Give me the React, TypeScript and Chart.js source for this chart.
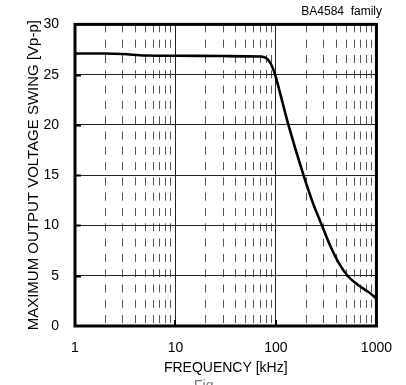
import React, { useEffect, useRef } from "react";
import { Chart, registerables } from "chart.js";

Chart.register(...registerables);

// Data
const freqKHz = [1, 2, 3, 5, 10, 30, 70, 80, 87, 93, 98, 133, 188, 232, 287, 353, 420, 516, 674, 814, 1000];
const swingVpp = [27.1, 27.1, 27.05, 26.9, 26.88, 26.85, 26.8, 26.65, 26.25, 25.65, 25.0, 20, 15, 12.3, 10, 7.8, 6.3, 5.0, 4.0, 3.45, 2.75];

const decades = [1, 10, 100, 1000];
const multipliers = [1, 2, 3, 4, 5, 6, 7, 8, 9];
const xTickLabels = ["1", "10", "100", "1000"];
const yTicks = [0, 5, 10, 15, 20, 25, 30];

const xTitle = "FREQUENCY [kHz]";
const yTitle = "MAXIMUM OUTPUT VOLTAGE SWING [Vp-p]";
const noteText = "BA4584  family";
const captionText = "Fig.";

const FONT = "'Liberation Sans', Arial, Helvetica, sans-serif";

const isDecade = (v: number) => decades.some((d) => Math.abs(d - v) < 1e-9);

const framePlugin = {
  id: "frame",
  afterDatasetsDraw(chart: any) {
    const { ctx, chartArea, scales } = chart;
    const { left, top, right, bottom } = chartArea;
    ctx.save();
    // inner tick marks
    ctx.strokeStyle = "#000";
    ctx.lineWidth = 2;
    ctx.beginPath();
    yTicks.forEach((v) => {
      if (v <= 0 || v >= 30) return;
      const y = Math.round(scales.y.getPixelForValue(v)) + 0.5;
      ctx.moveTo(left, y);
      ctx.lineTo(left + 6, y);
    });
    decades.forEach((d) => {
      if (d <= 1 || d >= 1000) return;
      const x = Math.round(scales.x.getPixelForValue(d));
      ctx.moveTo(x, bottom);
      ctx.lineTo(x, bottom - 6);
    });
    ctx.stroke();
    // thick frame
    ctx.lineWidth = 3;
    ctx.strokeRect(left, top, right - left, bottom - top);
    // note text
    ctx.fillStyle = "#000";
    ctx.font = `12px ${FONT}`;
    ctx.textAlign = "right";
    ctx.textBaseline = "alphabetic";
    ctx.fillText(noteText, 382, 15);
    // cut-off caption at the bottom
    ctx.fillStyle = "#777";
    ctx.font = `14px ${FONT}`;
    ctx.textAlign = "left";
    ctx.textBaseline = "top";
    ctx.fillText(captionText, 194, 379);
    ctx.restore();
  },
};

export default function App() {
  const ref = useRef<HTMLCanvasElement | null>(null);

  useEffect(() => {
    if (!ref.current) return;
    const gridValues: number[] = [];
    decades.forEach((d) => {
      if (d === 1000) {
        gridValues.push(1000);
        return;
      }
      multipliers.forEach((m) => gridValues.push(d * m));
    });

    const chart = new Chart(ref.current, {
      type: "line",
      data: {
        datasets: [
          {
            data: freqKHz.map((f, i) => ({ x: f, y: swingVpp[i] })),
            borderColor: "#000",
            borderWidth: 2.6,
            pointRadius: 0,
            cubicInterpolationMode: "monotone",
            fill: false,
          },
        ],
      },
      options: {
        animation: false,
        responsive: false,
        maintainAspectRatio: false,
        devicePixelRatio: 1,
        layout: { padding: { left: 0, top: 22, right: 27, bottom: 0 } },
        plugins: { legend: { display: false }, tooltip: { enabled: false } },
        scales: {
          x: {
            type: "logarithmic",
            min: 1,
            max: 1000,
            afterBuildTicks: (scale: any) => {
              scale.ticks = gridValues.map((v) => ({ value: v, major: isDecade(v) }));
            },
            afterFit: (scale: any) => {
              scale.height = 59;
            },
            ticks: {
              autoSkip: false,
              maxRotation: 0,
              padding: 14,
              color: "#000",
              font: { family: FONT, size: 14 },
              callback: (value: any) => {
                const i = decades.findIndex((d) => Math.abs(d - Number(value)) < 1e-9);
                return i >= 0 ? xTickLabels[i] : "";
              },
            },
            grid: {
              drawTicks: false,
              lineWidth: 1,
              color: (ctx: any) => (ctx.tick && isDecade(ctx.tick.value) ? "#222" : "#555"),
            },
            border: {
              display: false,
              dash: (ctx: any) => (ctx.tick && !isDecade(ctx.tick.value) ? [8, 7.3] : []),
            },
            title: {
              display: true,
              text: xTitle,
              color: "#000",
              font: { family: FONT, size: 14 },
              padding: { top: 0, bottom: 8 },
            },
          },
          y: {
            min: 0,
            max: 30,
            afterBuildTicks: (scale: any) => {
              scale.ticks = yTicks.map((v) => ({ value: v }));
            },
            afterFit: (scale: any) => {
              scale.width = 75;
            },
            ticks: {
              padding: 16,
              color: "#000",
              font: { family: FONT, size: 14 },
            },
            grid: { drawTicks: false, lineWidth: 1, color: "#222" },
            border: { display: false },
            title: {
              display: true,
              text: yTitle,
              color: "#000",
              font: { family: FONT, size: 15 },
              padding: { top: 25, bottom: 0 },
            },
          },
        },
      },
      plugins: [framePlugin],
    } as any);
    return () => chart.destroy();
  }, []);

  return (
    <div style={{ position: "fixed", left: 0, top: 0, width: 406, height: 385, background: "#fff" }}>
      <canvas ref={ref} width={406} height={385} style={{ width: 406, height: 385, display: "block" }} />
    </div>
  );
}
